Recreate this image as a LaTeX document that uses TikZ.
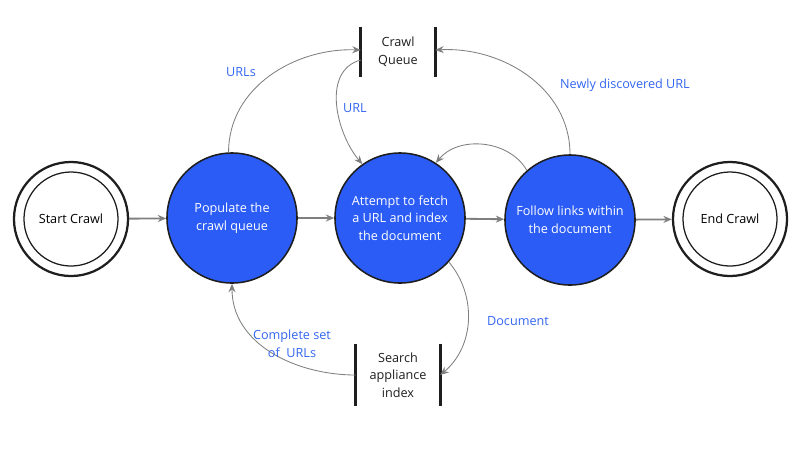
\documentclass[tikz,border=0pt]{standalone}
\usepackage{fontspec}
\setmainfont{Open Sans}
\usetikzlibrary{positioning, arrows.meta}
\definecolor{Fill}{HTML}{2B5CF6}
\definecolor{Label}{HTML}{3366F0}
\definecolor{Edge}{HTML}{7F7F7F}
\definecolor{Ink}{HTML}{1E1E1E}
\tikzset{
    task/.style={circle, draw=Ink, line width=1.1pt, fill=Fill, text=white, align=center, minimum size=3.25cm, inner sep=0pt, font=\fontsize{9}{12.5}\selectfont},
    terminal/.style={circle, draw=Ink, line width=1.6pt, minimum size=2.85cm, inner sep=0pt},
    innerring/.style={circle, draw=Ink, line width=0.9pt, minimum size=2.35cm, inner sep=0pt, align=center, font=\fontsize{9}{12.5}\selectfont},
    store/.style={align=center, inner sep=0pt, text=Ink, font=\fontsize{9}{12.5}\selectfont},
    bar/.style={line width=2pt, draw=Ink},
    flow/.style={-{Stealth[length=6pt,width=5pt]}, line width=1.3pt, draw=Edge},
    link/.style={-{Stealth[length=6pt,width=5pt]}, line width=0.6pt, draw=Edge},
    tag/.style={text=Label, align=center, font=\fontsize{9}{12.5}\selectfont},
}
\begin{document}
\begin{tikzpicture}[x=0.025cm, y=-0.025cm]
    \useasboundingbox (0,0) rectangle (800,450);

    % states
    \node[terminal] (start) at (71,219) {};
    \node[innerring] (startin) at (start) {Start Crawl};
    \node[task] (pop) at (232,218) {Populate the\\crawl queue};
    \node[task] (att) at (400,218) {Attempt to fetch\\a URL and index\\the document};
    \node[task] (fol) at (570,220) {Follow links within\\the document};
    \node[terminal] (end) at (730,219) {};
    \node[innerring] (endin) at (end) {End Crawl};

    % data stores
    \node[store, minimum width=1.85cm, minimum height=1.25cm] (queue) at (398,52) {Crawl\\Queue};
    \draw[bar] (queue.north west) -- (queue.south west);
    \draw[bar] (queue.north east) -- (queue.south east);
    \node[store, minimum width=2.1cm, minimum height=1.55cm] (index) at (398,375) {Search\\appliance\\index};
    \draw[bar] (index.north west) -- (index.south west);
    \draw[bar] (index.north east) -- (index.south east);

    % main flow
    \draw[flow] (start) -- (pop);
    \draw[flow] (pop) -- (att);
    \draw[flow] (att) -- (fol);
    \draw[flow] (fol) -- (end);

    % data flows
    \draw[link] (pop.93) to[out=90, in=178] ([yshift=0.05cm]queue.west);
    \draw[link] ([yshift=-0.2cm]queue.west) to[out=195, in=130] (att.125);
    \draw[link] (fol.90) to[out=90, in=3] ([yshift=0.05cm]queue.east);
    \draw[link] (fol.131) to[out=120, in=50] (att.57);
    \draw[link] (att.-42) to[out=-50, in=40] (index.east);
    \draw[link] (index.west) to[out=180, in=-90] (pop.-90);

    % labels
    \node[tag] (lurls) at (241,72) {URLs};
    \node[tag] (lurl) at (355,108) {URL};
    \node[tag] (lnew) at (625,85) {Newly discovered URL};
    \node[tag] (ldoc) at (518,321) {Document};
    \node[tag] (lset) at (292,344) {Complete set\\of\ \ URLs};
\end{tikzpicture}
\end{document}
